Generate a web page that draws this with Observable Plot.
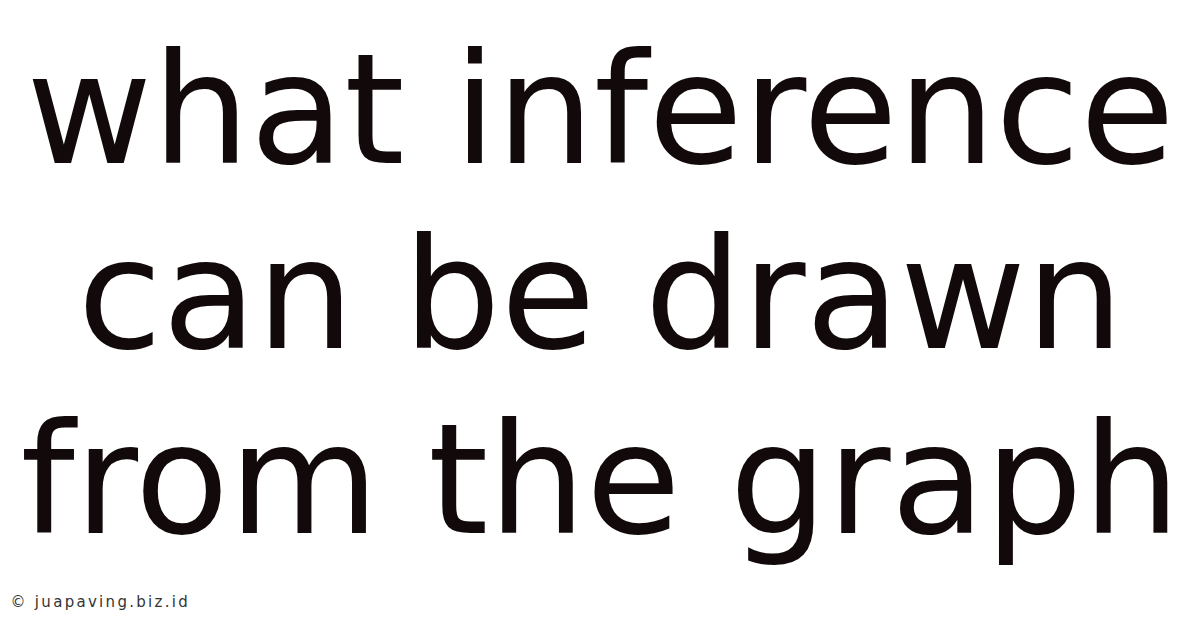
<!DOCTYPE html>
<html>
<head>
<meta charset="utf-8">
<script src="https://cdn.jsdelivr.net/npm/d3@7"></script>
<script src="https://cdn.jsdelivr.net/npm/@observablehq/plot@0.6"></script>
<style>
  html, body { margin: 0; padding: 0; background: #ffffff; }
  #chart svg { display: block; }
</style>
</head>
<body>
<div id="chart"></div>
<script>
const titleLines = ["what inference", "can be drawn", "from the graph"];
const footerText = ["© juapaving.biz.id"];

const plot = Plot.plot({
  width: 1200,
  height: 628,
  margin: 0,
  style: { background: "#ffffff" },
  x: { axis: null },
  y: { type: "point", domain: titleLines, range: [162, 532], padding: 0, axis: null },
  marks: [
    Plot.text(titleLines, {
      y: d => d,
      frameAnchor: "middle",
      textAnchor: "middle",
      lineAnchor: "bottom",
      fontFamily: "DejaVu Sans",
      fontSize: 154,
      fill: "#120a0a"
    }),
    Plot.text(footerText, {
      text: d => d,
      frameAnchor: "bottom-left",
      textAnchor: "start",
      lineAnchor: "bottom",
      dx: 10,
      dy: -22,
      fontFamily: "DejaVu Sans",
      fontSize: 15,
      fill: "#333333"
    })
  ]
});
d3.select(plot).selectAll("text")
  .filter(function () { return footerText.includes(this.textContent); })
  .style("letter-spacing", "2.3px");
document.getElementById("chart").append(plot);
</script>
</body>
</html>
